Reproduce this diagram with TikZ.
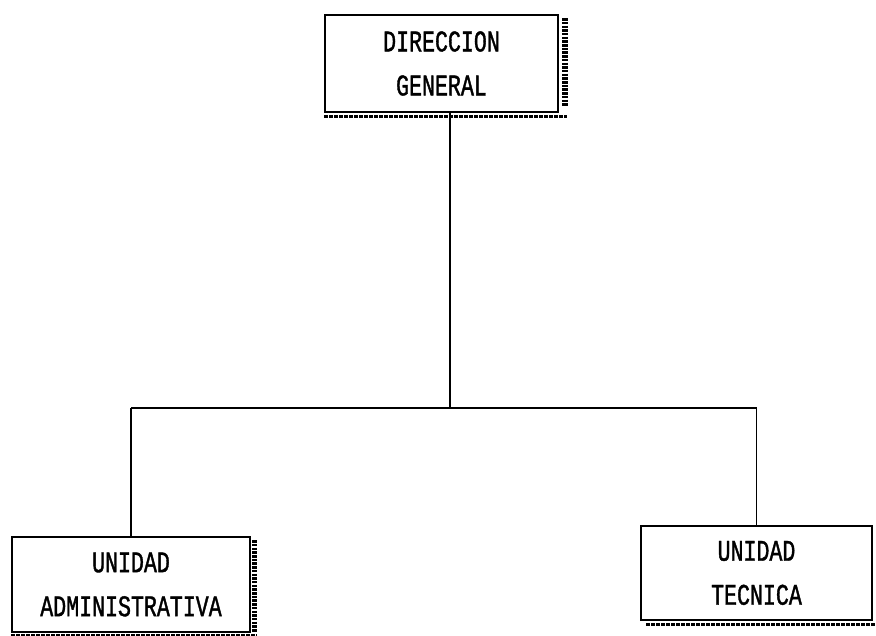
\documentclass[tikz,border=0pt]{standalone}
\usepackage{fontspec}
\newfontfamily\dotfont[FakeStretch=0.72,FakeBold=1.2]{Liberation Mono}
\begin{document}
\begin{tikzpicture}[x=1pt,y=-1pt,
  unitbox/.style={draw=black, line width=1.6pt, fill=white, inner sep=0pt,
    align=center, font=\dotfont\fontsize{30}{44}\selectfont},
  link/.style={draw=black, line width=1.8pt},
  rshadow/.style={draw=black, line width=6pt, dash pattern=on 2.5pt off 1.2pt},
  bshadow/.style={draw=black, line width=3.2pt, dash pattern=on 4pt off 1pt}]
  \useasboundingbox (0,0) rectangle (876,636);
  \fill[white] (0,0) rectangle (876,636);

  % organisation units
  \node[unitbox, minimum width=233pt, minimum height=97pt] (dg) at (441.5,63.5)
    {DIRECCION\\GENERAL};
  \node[unitbox, minimum width=238pt, minimum height=95pt] (ua) at (131,584.5)
    {UNIDAD\\ADMINISTRATIVA};
  \node[unitbox, minimum width=231pt, minimum height=94pt] (ut) at (756.5,573)
    {UNIDAD\\TECNICA};

  % printed shadow along right and lower edges
  \draw[rshadow] ([xshift=6pt,yshift=-4pt]dg.north east) -- ([xshift=6pt,yshift=6pt]dg.south east);
  \draw[bshadow] ([yshift=-4pt]dg.south west) -- ([xshift=8pt,yshift=-4pt]dg.south east);
  \draw[rshadow, line width=5pt] ([xshift=4pt,yshift=-4pt]ua.north east) -- ([xshift=4pt,yshift=1pt]ua.south east);
  \draw[bshadow, line width=2pt] ([yshift=-2pt]ua.south west) -- ([xshift=6pt,yshift=-2pt]ua.south east);
  \draw[bshadow] ([xshift=6pt,yshift=-4pt]ut.south west) -- ([xshift=2pt,yshift=-4pt]ut.south east);

  % connectors
  \coordinate (jc) at (450,408);
  \draw[link] (dg.south -| jc) -- (jc);
  \draw[link] (ua.north |- jc) -- (ut.north |- jc);
  \draw[link] (ua.north |- jc) -- (ua.north);
  \draw[link] (ut.north |- jc) -- (ut.north);
\end{tikzpicture}
\end{document}
